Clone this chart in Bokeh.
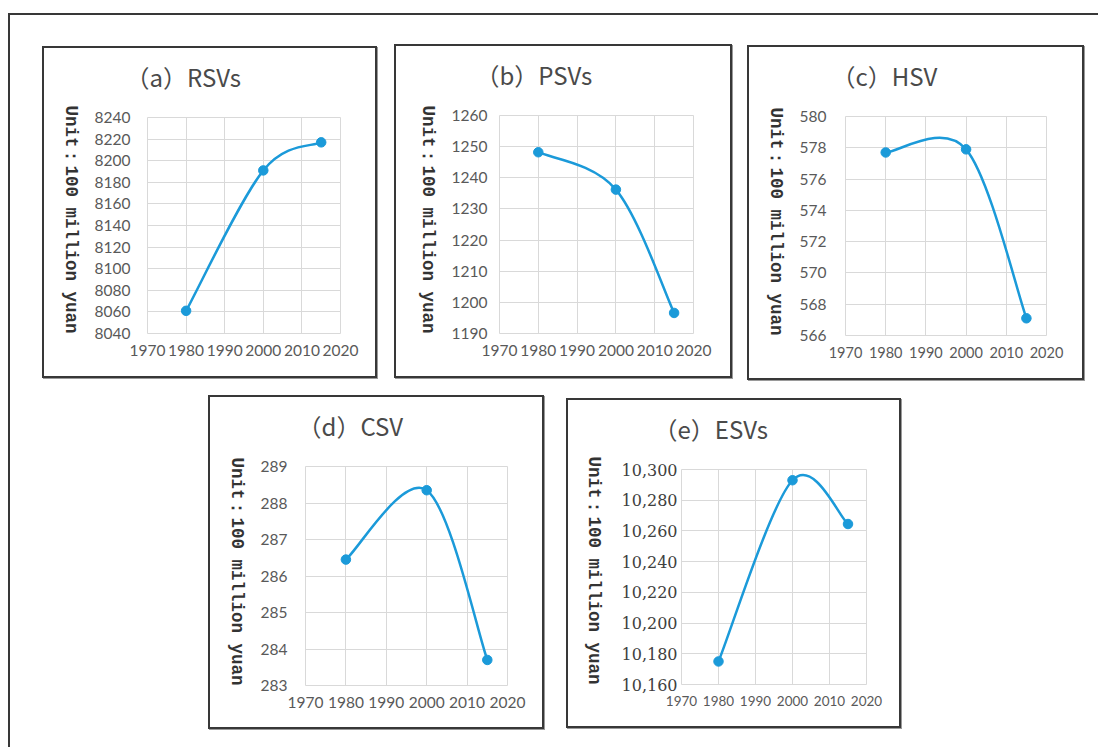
import math
from bokeh.plotting import figure
from bokeh.layouts import row, column
from bokeh.models import Range1d, FixedTicker, NumeralTickFormatter, LinearAxis, Title
from bokeh.embed import file_html
from bokeh.resources import INLINE

# ---------------- data ----------------
years = [1980, 2000, 2015]
x_ticks = [1970, 1980, 1990, 2000, 2010, 2020]

rsv_values = [8061, 8191, 8217]
psv_values = [1248.2, 1236.2, 1196.6]
hsv_values = [577.7, 577.9, 567.1]
csv_values = [286.45, 288.35, 283.7]
esv_values = [10175, 10293, 10264.5]

rsv_ticks = [8040, 8060, 8080, 8100, 8120, 8140, 8160, 8180, 8200, 8220, 8240]
psv_ticks = [1190, 1200, 1210, 1220, 1230, 1240, 1250, 1260]
hsv_ticks = [566, 568, 570, 572, 574, 576, 578, 580]
csv_ticks = [283, 284, 285, 286, 287, 288, 289]
esv_ticks = [10160, 10180, 10200, 10220, 10240, 10260, 10280, 10300]

titles = ["（a）RSVs", "（b）PSVs", "（c）HSV", "（d）CSV", "（e）ESVs"]
unit_label = "Unit：100 million yuan"

LINE_COLOR = "#1B9AD9"
GRID_COLOR = "#D9D9D9"
TICK_COLOR = "#595959"


def smooth_segments(xs, ys):
    """Excel-like smoothed line: cubic Bezier control points from neighbours."""
    n = len(xs)
    out = {k: [] for k in ("x0", "y0", "x1", "y1", "cx0", "cy0", "cx1", "cy1")}
    for i in range(n - 1):
        xa, ya = xs[i], ys[i]
        xb, yb = xs[i + 1], ys[i + 1]
        xp, yp = (xs[i - 1], ys[i - 1]) if i > 0 else (xa, ya)
        xn, yn = (xs[i + 2], ys[i + 2]) if i + 2 < n else (xb, yb)
        out["x0"].append(xa); out["y0"].append(ya)
        out["x1"].append(xb); out["y1"].append(yb)
        out["cx0"].append(xa + (xb - xp) / 6.0); out["cy0"].append(ya + (yb - yp) / 6.0)
        out["cx1"].append(xb - (xn - xa) / 6.0); out["cy1"].append(yb - (yn - ya) / 6.0)
    return out


def make_panel(title, values, yticks, outer_w, outer_h, frame_left, frame_w, frame_top, frame_h,
               margin, ytick_standoff, ylabel_standoff, tick_font="Lato", tick_size="15.5px",
               ytick_font=None, ytick_size=None, ytick_color=TICK_COLOR, xtick_size=None,
               yformat=None, title_dx=-15):
    cw = outer_w - 4   # canvas inside the 2px CSS border (border-box sizing)
    ch = outer_h - 4
    p = figure(width=outer_w, height=outer_h, output_backend="svg", toolbar_location=None,
               x_range=Range1d(x_ticks[0], x_ticks[-1]),
               y_range=Range1d(yticks[0], yticks[-1]),
               min_border_left=frame_left, min_border_right=cw - frame_left - frame_w,
               min_border_top=frame_top, min_border_bottom=ch - frame_top - frame_h,
               margin=margin,
               styles={"border": "2px solid #383838", "box-shadow": "1px 1px 0px #9a9a9a"})
    p.background_fill_color = "white"
    p.border_fill_color = "white"
    p.outline_line_color = GRID_COLOR
    p.outline_line_width = 1

    # title: a blank spacer title next to the frame, then the visible title above it
    p.title.text = ""
    p.add_layout(Title(text=" ", text_font="Noto Sans CJK SC", text_font_size="15.5px",
                       standoff=0), "above")
    p.add_layout(Title(text=title, text_font="Noto Sans CJK SC", text_font_size="24px",
                       text_font_style="normal", text_color="#4a4a4a", align="left",
                       offset=title_dx, standoff=0), "above")

    # axes
    for ax in (p.xaxis[0], p.yaxis[0]):
        ax.axis_line_color = None
        ax.major_tick_line_color = None
        ax.minor_tick_line_color = None
        ax.major_tick_out = 0
        ax.major_tick_in = 0
    p.xaxis.ticker = FixedTicker(ticks=x_ticks)
    p.yaxis.ticker = FixedTicker(ticks=yticks)
    p.xaxis.major_label_text_font = tick_font
    p.xaxis.major_label_text_font_size = xtick_size or tick_size
    p.xaxis.major_label_text_color = TICK_COLOR
    p.xaxis.major_label_standoff = 11
    p.yaxis.major_label_text_font = ytick_font or tick_font
    p.yaxis.major_label_text_font_size = ytick_size or tick_size
    p.yaxis.major_label_text_color = ytick_color
    p.yaxis.major_label_standoff = ytick_standoff
    if yformat:
        p.yaxis.formatter = NumeralTickFormatter(format=yformat)

    # vertical unit label (reads top to bottom), carried by a tick-less outer axis
    p.extra_y_ranges = {"unit": Range1d(0, frame_h)}
    lab = LinearAxis(y_range_name="unit", ticker=FixedTicker(ticks=[]), axis_label=unit_label)
    lab.axis_line_color = None
    lab.major_tick_line_color = None
    lab.minor_tick_line_color = None
    lab.major_tick_out = 0
    lab.major_tick_in = 0
    lab.major_label_text_font_size = "0px"
    lab.axis_label_text_font = "Liberation Mono"
    lab.axis_label_text_font_style = "bold"
    lab.axis_label_text_font_size = "17.5px"
    lab.axis_label_text_color = "#333333"
    lab.axis_label_standoff = ylabel_standoff
    props = lab.properties()
    if "axis_label_orientation" in props:
        lab.axis_label_orientation = -math.pi / 2
    if "axis_label_align" in props:
        lab.axis_label_align = "start"
    p.add_layout(lab, "left")

    p.xgrid.grid_line_color = GRID_COLOR
    p.ygrid.grid_line_color = GRID_COLOR
    p.xgrid.grid_line_width = 1
    p.ygrid.grid_line_width = 1

    # smoothed line + markers
    seg = smooth_segments(years, values)
    p.bezier(x0=seg["x0"], y0=seg["y0"], x1=seg["x1"], y1=seg["y1"],
             cx0=seg["cx0"], cy0=seg["cy0"], cx1=seg["cx1"], cy1=seg["cy1"],
             line_color=LINE_COLOR, line_width=2.5)
    p.scatter(years, values, size=9.5, fill_color=LINE_COLOR, line_color=LINE_COLOR)
    return p


pa = make_panel(titles[0], rsv_values, rsv_ticks, 335, 332, 103, 189, 67, 216,
                margin=(31, 0, 0, 32), ytick_standoff=17, ylabel_standoff=21, title_dx=-22)
pb = make_panel(titles[1], psv_values, psv_ticks, 338, 334, 103, 190, 68, 215,
                margin=(29, 0, 0, 17), ytick_standoff=12, ylabel_standoff=21, title_dx=-24)
pc = make_panel(titles[2], hsv_values, hsv_ticks, 337, 335, 96, 197, 69, 215,
                margin=(30, 0, 0, 15), ytick_standoff=19, ylabel_standoff=21, title_dx=-14,
                xtick_size="14.5px")
pd = make_panel(titles[3], csv_values, csv_ticks, 336, 334, 95, 198, 68, 216,
                margin=(15, 0, 0, 198), ytick_standoff=18, ylabel_standoff=21, title_dx=-8)
pe = make_panel(titles[4], esv_values, esv_ticks, 335, 330, 113, 181, 69, 213,
                margin=(18, 0, 0, 22), ytick_standoff=4, ylabel_standoff=25, title_dx=-28,
                ytick_font="DejaVu Serif", ytick_size="16px", ytick_color="#404040",
                xtick_size="13.5px", yformat="0,0")

layout = column(row(pa, pb, pc), row(pd, pe),
                width=1090, height=734, margin=(13, 0, 0, 8),
                styles={"border-left": "2px solid #383838", "border-top": "2px solid #383838"})

open("out.html", "w").write(file_html(layout, INLINE))
